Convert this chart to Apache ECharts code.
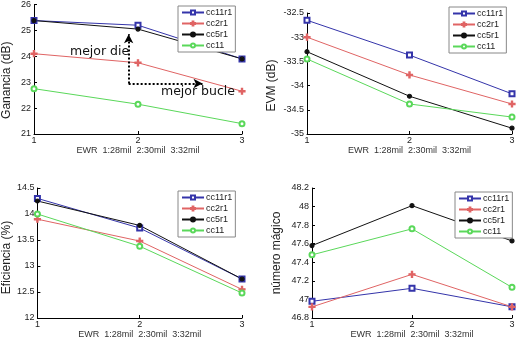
<!DOCTYPE html>
<html>
<head>
<meta charset="utf-8">
<script src="https://cdn.jsdelivr.net/npm/echarts@6/dist/echarts.min.js"></script>
<style>
  html, body { margin: 0; padding: 0; background: #fff; }
  #chart { width: 520px; height: 340px; }
</style>
</head>
<body>
<div id="chart"></div>
<script>
const xValues = [1, 2, 3];
const seriesNames = ["cc11r1", "cc2r1", "cc5r1", "cc11"];
const xAxisTitle = "EWR  1:28mil  2:30mil  3:32mil";

// one row per series, same order as seriesNames
const ganancia = [
  [25.38, 25.2, 23.9],
  [24.1, 23.75, 22.65],
  [25.38, 25.05, 23.9],
  [22.75, 22.15, 21.4],
];
const evm = [
  [-32.65, -33.37, -34.17],
  [-33.0, -33.78, -34.38],
  [-33.3, -34.22, -34.88],
  [-33.45, -34.38, -34.65],
];
const eficiencia = [
  [14.3, 13.73, 12.75],
  [13.9, 13.48, 12.55],
  [14.25, 13.78, 12.75],
  [14.0, 13.38, 12.48],
];
const numeroMagico = [
  [46.98, 47.12, 46.92],
  [46.92, 47.27, 46.92],
  [47.58, 48.01, 47.63],
  [47.48, 47.76, 47.13],
];

const colors = ["#3434aa", "#e06464", "#111111", "#5ad85a"];
const plusPath = "path://M4,0H6V4H10V6H6V10H4V6H0V4H4Z";
const symbols = ["emptyRect", plusPath, "circle", "emptyCircle"];
const symbolSizes = [5, 6, 4, 5];

const panels = [
  { data: ganancia, yName: "Ganancia (dB)", min: 21, max: 26, interval: 1, nameGap: 21, shift: 22,
    grid: { left: 34, right: 278, top: 4, bottom: 206 }, legend: { left: 178, top: 6 } },
  { data: evm, yName: "EVM (dB)", min: -35, max: -32.5, interval: 0.5, nameGap: 29, shift: 24,
    grid: { left: 307, right: 8, top: 13, bottom: 206 }, legend: { left: 449, top: 7 } },
  { data: eficiencia, yName: "Eficiencia (%)", min: 12, max: 14.5, interval: 0.5, nameGap: 23, shift: 9,
    grid: { left: 34, right: 278, top: 188, bottom: 21 }, legend: { left: 178, top: 191 } },
  { data: numeroMagico, yName: "número mágico", min: 46.8, max: 48.2, interval: 0.2, nameGap: 29, shift: 0,
    grid: { left: 312, right: 8, top: 188, bottom: 21 }, legend: { left: 455, top: 192 } },
];

const font = "Liberation Sans, Arial, sans-serif";

const grids = panels.map((p) => p.grid);

const xAxes = panels.map((p, i) => ({
  type: "value",
  gridIndex: i,
  min: 1,
  max: 3,
  interval: 1,
  name: xAxisTitle,
  nameLocation: "middle",
  nameGap: 12,
  nameTextStyle: { fontSize: 9, color: "#333", fontFamily: font },
  splitLine: { show: false },
  axisLine: { lineStyle: { color: "#000", width: 1 } },
  axisTick: { inside: true, length: 3, lineStyle: { color: "#000" } },
  axisLabel: { fontSize: 9, color: "#222", margin: 2, fontFamily: font },
}));

const yAxes = panels.map((p, i) => ({
  type: "value",
  gridIndex: i,
  min: p.min,
  max: p.max,
  interval: p.interval,
  name: p.yName,
  nameLocation: "middle",
  nameGap: p.nameGap,
  nameRotate: 90,
  nameTextStyle: {
    fontSize: 12,
    color: "#222",
    fontFamily: font,
    padding: [0, p.shift, 0, 0],
  },
  splitLine: { show: false },
  axisLine: { show: true, lineStyle: { color: "#000", width: 1 } },
  axisTick: { inside: true, length: 3, lineStyle: { color: "#000" } },
  axisLabel: {
    fontSize: 9,
    color: "#222",
    margin: 3,
    fontFamily: font,
    formatter: (v) => String(+v.toFixed(1)),
  },
}));

const series = [];
panels.forEach((p, i) => {
  p.data.forEach((vals, k) => {
    series.push({
      name: seriesNames[k],
      type: "line",
      xAxisIndex: i,
      yAxisIndex: i,
      data: vals.map((v, j) => [xValues[j], v]),
      symbol: symbols[k],
      symbolSize: symbolSizes[k],
      showAllSymbol: true,
      color: colors[k],
      lineStyle: { width: 1, color: colors[k] },
      itemStyle: { color: colors[k], borderColor: colors[k], borderWidth: 1.2 },
      emphasis: { disabled: true },
      animation: false,
      z: 2,
    });
  });
});

// dotted arrows on the gain panel
series[0].markLine = {
  silent: true,
  symbol: ["none", "arrow"],
  symbolSize: [7, 9],
  label: { show: false },
  lineStyle: { type: "dotted", width: 2, color: "#000" },
  data: [
    [{ coord: [1.91, 22.95] }, { coord: [1.91, 24.85] }],
    [{ coord: [1.91, 22.95] }, { coord: [2.62, 22.95] }],
  ],
};

const legends = panels.map((p) => ({
  left: p.legend.left,
  top: p.legend.top,
  orient: "vertical",
  data: seriesNames,
  itemWidth: 22,
  itemHeight: 5,
  itemGap: 2,
  padding: [2, 3, 2, 3],
  backgroundColor: "#fff",
  borderColor: "#888",
  borderWidth: 1,
  borderRadius: 0,
  selectedMode: false,
  z: 20,
  textStyle: { fontSize: 9, color: "#222", fontFamily: font, padding: [0, 0, 0, -3] },
}));

const chart = echarts.init(document.getElementById("chart"), null, { renderer: "canvas" });
chart.setOption({
  backgroundColor: "#fff",
  animation: false,
  grid: grids,
  xAxis: xAxes,
  yAxis: yAxes,
  legend: legends,
  series: series,
  graphic: [
    { type: "text", left: 70, top: 45, z: 30,
      style: { text: "mejor die", fontSize: 12.5, fill: "#111", fontFamily: "DejaVu Sans, sans-serif" } },
    { type: "text", left: 161, top: 85, z: 30,
      style: { text: "mejor bucle", fontSize: 12.5, fill: "#111", fontFamily: "DejaVu Sans, sans-serif" } },
  ],
});
</script>
</body>
</html>
